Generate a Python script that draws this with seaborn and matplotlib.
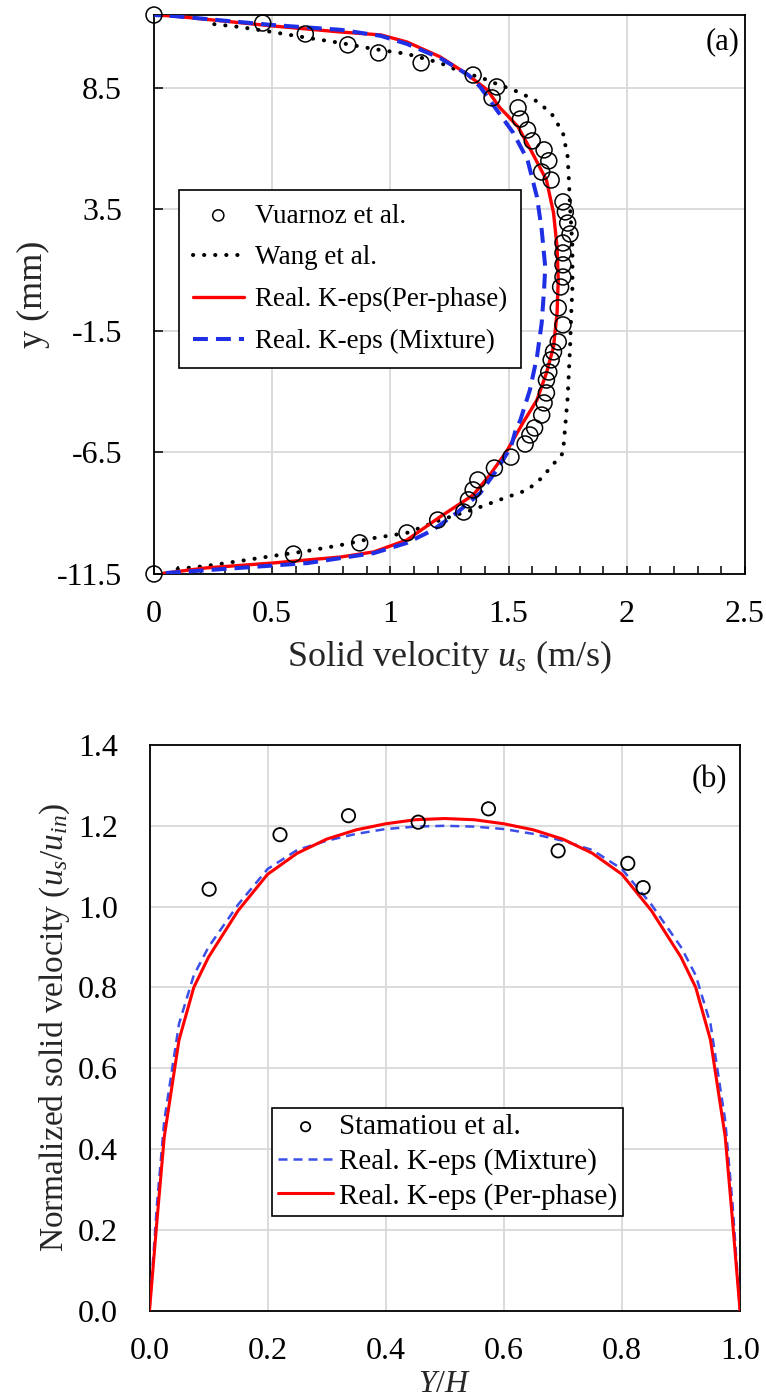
import matplotlib
matplotlib.use("Agg")
import matplotlib.pyplot as plt
import seaborn as sns
from matplotlib.ticker import FixedLocator, MultipleLocator

# ---------------- (a) solid velocity profile across the channel ----------------
vuarnoz_u = [0.00, 0.59, 0.87, 1.07, 1.20, 1.31, 1.33, 1.35, 1.37, 1.44, 1.51, 1.57, 1.59,
             1.61, 1.64, 1.65, 1.66, 1.66, 1.67, 1.68, 1.69, 1.71, 1.73, 1.71, 1.72, 1.73,
             1.73, 1.73, 1.73, 1.76, 1.75, 1.74, 1.73, 1.68, 1.64, 1.67, 1.65, 1.60, 1.58,
             1.55, 1.54, 1.43, 1.45, 1.35, 1.13, 0.95, 0.82, 0.64, 0.46, 0.00]
vuarnoz_y = [-11.50, -10.68, -10.22, -9.81, -9.28, -8.95, -8.45, -8.04, -7.63, -7.14, -6.69,
             -6.15, -5.78, -5.49, -4.96, -4.46, -4.05, -3.52, -3.19, -2.69, -2.36, -1.95,
             -1.25, -0.55, 0.31, 0.72, 1.22, 1.71, 2.12, 2.49, 2.94, 3.40, 3.81, 4.71, 5.04,
             5.50, 5.95, 6.32, 6.77, 7.22, 7.68, 8.09, 8.54, 9.03, 9.53, 9.94, 10.27, 10.72,
             11.17, 11.50]

wang_u = [0.10, 0.22, 0.36, 0.50, 0.65, 0.79, 0.93, 1.07, 1.21, 1.35, 1.49, 1.58, 1.64, 1.67,
          1.73, 1.75, 1.76, 1.765, 1.77, 1.77, 1.76, 1.755, 1.75, 1.73, 1.68, 1.61, 1.52,
          1.45, 1.41, 1.28, 1.21, 1.07, 0.93, 0.79, 0.65, 0.50, 0.36, 0.21]
wang_y = [-11.29, -11.17, -10.97, -10.76, -10.55, -10.31, -10.02, -9.81, -9.28, -8.85, -8.35,
          -8.04, -7.55, -7.20, -6.52, -4.22, -2.16, -0.76, 0.31, 1.96, 3.60, 4.71, 5.66,
          6.65, 7.47, 8.01, 8.42, 8.66, 8.83, 9.24, 9.53, 9.90, 10.10, 10.35, 10.56, 10.80,
          11.01, 11.17]

perphase_u = [0.04, 0.22, 0.50, 0.79, 0.93, 1.07, 1.21, 1.35, 1.42, 1.49, 1.56, 1.62, 1.66,
              1.69, 1.705, 1.71, 1.705, 1.69, 1.66, 1.60, 1.54, 1.46, 1.41, 1.31, 1.21, 1.07,
              0.96, 0.79, 0.50, 0.08, 0.00]
perphase_y = [-11.47, -11.25, -11.05, -10.80, -10.59, -10.10, -9.15, -8.25, -7.43, -6.48,
              -5.29, -4.34, -3.23, -2.16, -0.76, 0.60, 1.96, 3.36, 4.71, 5.83, 6.90, 7.72,
              8.42, 9.16, 9.78, 10.39, 10.68, 10.80, 11.05, 11.46, 11.50]

mixture_u = [0.05, 0.36, 0.65, 0.93, 1.07, 1.18, 1.28, 1.38, 1.45, 1.51, 1.53, 1.55, 1.59,
             1.62, 1.64, 1.65, 1.655, 1.64, 1.62, 1.58, 1.52, 1.45, 1.38, 1.33, 1.21, 1.07,
             0.96, 0.79, 0.50, 0.08, 0.00]
mixture_y = [-11.46, -11.25, -11.05, -10.64, -10.22, -9.69, -8.99, -8.17, -7.22, -6.27, -5.57,
             -5.16, -3.93, -2.57, -1.17, 0.19, 1.13, 2.66, 4.01, 5.54, 6.65, 7.59, 8.54, 9.03,
             9.73, 10.31, 10.64, 10.89, 11.09, 11.46, 11.50]

a_xticks = [0, 0.5, 1, 1.5, 2, 2.5]
a_xticklabels = ["0", "0.5", "1", "1.5", "2", "2.5"]
a_yticks = [-11.5, -6.5, -1.5, 3.5, 8.5]
a_yticklabels = ["-11.5", "-6.5", "-1.5", "3.5", "8.5"]

# ---------------- (b) normalised solid velocity ----------------
stam_x = [0.101, 0.221, 0.337, 0.455, 0.574, 0.692, 0.810, 0.836]
stam_y = [1.043, 1.178, 1.225, 1.209, 1.242, 1.138, 1.107, 1.047]

yh = [0.0, 0.0125, 0.025, 0.05, 0.075, 0.1, 0.15, 0.2, 0.25, 0.3, 0.35, 0.4, 0.45, 0.5,
      0.55, 0.6, 0.65, 0.7, 0.75, 0.8, 0.85, 0.9, 0.925, 0.95, 0.975, 0.9875, 1.0]
b_perphase = [0.0, 0.22, 0.43, 0.67, 0.80, 0.875, 0.99, 1.08, 1.132, 1.167, 1.19, 1.205, 1.215,
              1.218, 1.215, 1.205, 1.19, 1.167, 1.132, 1.08, 0.99, 0.875, 0.80, 0.67, 0.43,
              0.22, 0.0]
b_mixture = [0.0, 0.26, 0.47, 0.71, 0.83, 0.90, 1.005, 1.093, 1.14, 1.163, 1.18, 1.192, 1.198,
             1.20, 1.198, 1.192, 1.18, 1.163, 1.14, 1.093, 1.005, 0.90, 0.83, 0.71, 0.47,
             0.26, 0.0]

b_ticks_x = [0.0, 0.2, 0.4, 0.6, 0.8, 1.0]
b_ticks_y = [0.0, 0.2, 0.4, 0.6, 0.8, 1.0, 1.2, 1.4]

sns.set_theme(style="white")
plt.rcParams["font.family"] = ["Liberation Serif", "DejaVu Serif"]
plt.rcParams["mathtext.fontset"] = "custom"
plt.rcParams["mathtext.rm"] = "Liberation Serif"
plt.rcParams["mathtext.it"] = "Liberation Serif:italic"
plt.rcParams["axes.unicode_minus"] = False
plt.rcParams["text.color"] = "black"
plt.rcParams["xtick.color"] = "black"
plt.rcParams["ytick.color"] = "black"

W, H = 766, 1398
fig = plt.figure(figsize=(W / 100, H / 100), dpi=100)
fig.patch.set_facecolor("white")

ax1 = fig.add_axes([154 / W, 1 - 574 / H, 591 / W, 559 / H])
ax2 = fig.add_axes([149.5 / W, 1 - 1310.6 / H, 590.5 / W, 565.6 / H])

GRID = "#d9d9d9"

for ax in (ax1, ax2):
    ax.set_facecolor("white")
    ax.set_axisbelow(True)
    for sp in ax.spines.values():
        sp.set_visible(True)
        sp.set_color("black")
        sp.set_linewidth(1.3)

# ---- panel (a) ----
sns.scatterplot(x=vuarnoz_u, y=vuarnoz_y, ax=ax1, marker="o", s=11.5 ** 2,
                color="black", facecolors="none", edgecolor="black", linewidth=1.1,
                label="Vuarnoz et al.", zorder=5, clip_on=False)
sns.lineplot(x=wang_u, y=wang_y, ax=ax1, sort=False, estimator=None, color="black",
             lw=2.9, linestyle=(0, (0.05, 2.7)), dash_capstyle="round",
             label="Wang et al.", zorder=3)
sns.lineplot(x=perphase_u, y=perphase_y, ax=ax1, sort=False, estimator=None,
             color="#ff0000", lw=2.4, label="Real. K-eps(Per-phase)", zorder=4)
sns.lineplot(x=mixture_u, y=mixture_y, ax=ax1, sort=False, estimator=None,
             color="#1f2fe6", lw=2.9, linestyle=(0, (3.7, 2.0)),
             label="Real. K-eps (Mixture)", zorder=4)

ax1.set_xlim(0, 2.5)
ax1.set_ylim(-11.5, 11.5)
ax1.xaxis.set_major_locator(FixedLocator(a_xticks))
ax1.set_xticklabels(a_xticklabels)
ax1.xaxis.set_minor_locator(MultipleLocator(0.1))
ax1.yaxis.set_major_locator(FixedLocator(a_yticks))
ax1.set_yticklabels(a_yticklabels)
ax1.tick_params(axis="x", which="both", direction="in", length=5.5, width=1.1,
                bottom=True, top=False, labelsize=23, pad=19)
ax1.tick_params(axis="y", which="major", direction="in", length=6.5, width=1.1,
                left=True, right=False, labelsize=23, pad=23)
ax1.grid(True, which="major", color=GRID, lw=1.3)
ax1.set_xlabel("Solid velocity $u_s$ (m/s)", fontsize=26)
ax1.xaxis.set_label_coords(0.5, -0.114)
ax1.set_ylabel("y (mm)", fontsize=26)
ax1.yaxis.set_label_coords(-0.176, 0.5)
ax1.text(0.9915, 0.9785, "(a)", transform=ax1.transAxes, ha="right", va="top", fontsize=22)

leg1 = ax1.legend(loc="upper left", bbox_to_anchor=(0.0423, 0.687), borderaxespad=0,
                  frameon=True, fancybox=False, edgecolor="black", framealpha=1,
                  fontsize=19.5, markerscale=0.7, handlelength=1.9, handletextpad=0.4,
                  labelspacing=0.62, borderpad=0.5)
leg1.get_frame().set_linewidth(1.2)

# ---- panel (b) ----
sns.scatterplot(x=stam_x, y=stam_y, ax=ax2, marker="o", s=9.6 ** 2,
                color="black", facecolors="none", edgecolor="black", linewidth=1.3,
                label="Stamatiou et al.", zorder=5, clip_on=False)
sns.lineplot(x=yh, y=b_mixture, ax=ax2, sort=False, estimator=None, color="#3b4ee8",
             lw=1.8, linestyle=(0, (3.6, 2.4)), label="Real. K-eps (Mixture)", zorder=3)
sns.lineplot(x=yh, y=b_perphase, ax=ax2, sort=False, estimator=None, color="#ff0000",
             lw=2.2, label="Real. K-eps (Per-phase)", zorder=4)

ax2.set_xlim(0, 1.0)
ax2.set_ylim(0, 1.4)
ax2.xaxis.set_major_locator(FixedLocator(b_ticks_x))
ax2.yaxis.set_major_locator(FixedLocator(b_ticks_y))
ax2.set_xticklabels([f"{v:.1f}" for v in b_ticks_x])
ax2.set_yticklabels([f"{v:.1f}" for v in b_ticks_y])
ax2.tick_params(axis="both", which="both", length=0, labelsize=23)
ax2.tick_params(axis="x", pad=19)
ax2.tick_params(axis="y", pad=22.7)
ax2.grid(True, which="major", color=GRID, lw=1.3)
ax2.set_xlabel("$Y/H$", fontsize=23)
ax2.xaxis.set_label_coords(0.5, -0.105)
ax2.set_ylabel("Normalized solid velocity ($u_s/u_{in}$)", fontsize=24)
ax2.yaxis.set_label_coords(-0.131, 0.5)
ax2.text(0.978, 0.9646, "(b)", transform=ax2.transAxes, ha="right", va="top", fontsize=22)

leg2 = ax2.legend(loc="upper left", bbox_to_anchor=(0.2075, 0.358), borderaxespad=0,
                  frameon=True, fancybox=False, edgecolor="black", framealpha=1,
                  fontsize=21, markerscale=0.7, handlelength=1.9, handletextpad=0.2,
                  labelspacing=0.27, borderpad=0.2)
leg2.get_frame().set_linewidth(1.2)

fig.savefig("out.png", dpi=100, facecolor="white")
